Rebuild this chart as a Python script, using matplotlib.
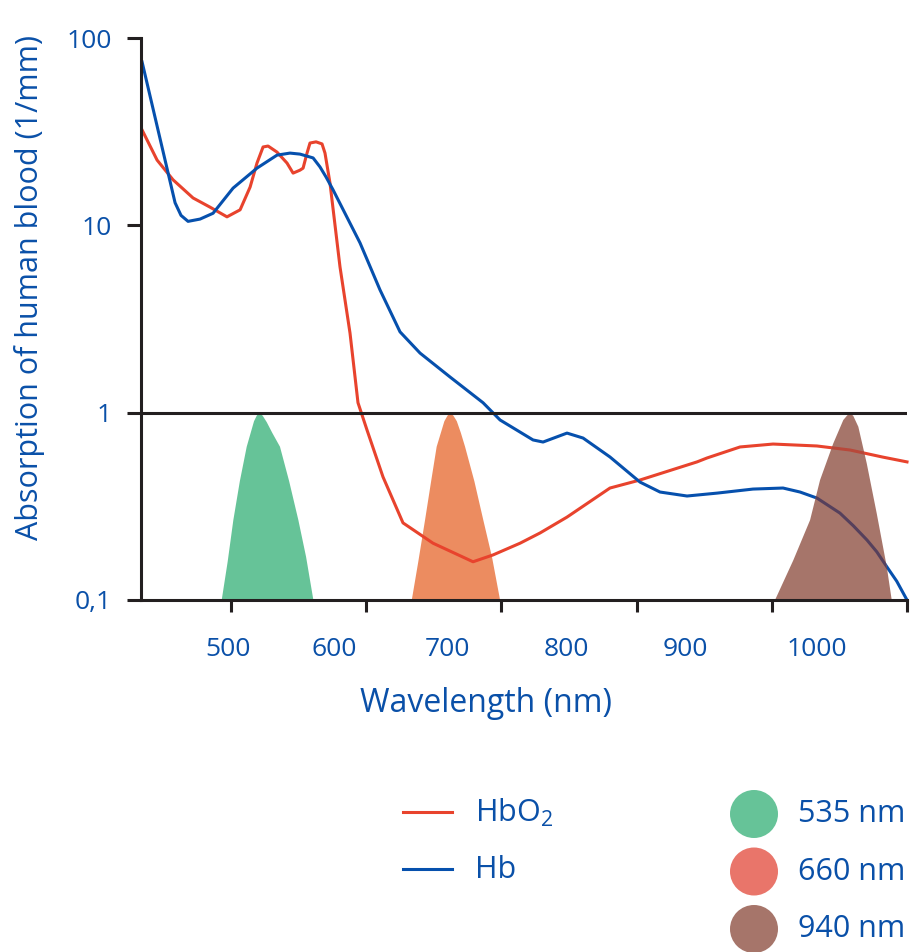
import matplotlib
matplotlib.use("Agg")
from matplotlib import pyplot as plt
from matplotlib.patches import Circle
from matplotlib.ticker import NullLocator

plt.rcParams['font.family'] = ['Open Sans', 'DejaVu Sans']
plt.rcParams['mathtext.default'] = 'regular'

BLUE_TXT = '#0a50a8'
BLUE = '#0650ad'
RED = '#e8432d'
AXC = '#231f20'

# absorption curves (wavelength nm, absorption 1/mm)
hb_wl = [434.2, 458.6, 463.0, 468.2, 477.1, 486.7, 501.5, 519.2, 534.0, 543.6, 551.0, 560.7,
         565.8, 570.3, 575.4, 595.4, 610.2, 625.0, 639.8, 662.0, 686.4, 699.0, 723.4, 730.8,
         748.5, 760.4, 780.3, 802.5, 817.3, 837.3, 859.5, 886.1, 908.3, 920.9, 933.4,
         950.4, 960.3, 970.4, 977.6, 985.2, 992.4, 1000.0]
hb_abs = [74.5, 13.2, 11.3, 10.5, 10.8, 11.6, 15.8, 20.2, 23.7, 24.3, 24.0, 22.9,
          20.5, 18.1, 15.5, 8.06, 4.52, 2.70, 2.08, 1.55, 1.13, 0.914, 0.715, 0.697,
          0.778, 0.732, 0.580, 0.426, 0.377, 0.359, 0.372, 0.391, 0.396, 0.377, 0.350,
          0.291, 0.249, 0.209, 0.181, 0.150, 0.126, 0.1]

hbo2_wl = [434.2, 445.3, 457.1, 471.9, 484.5, 497.0, 506.7, 514.1, 519.2, 523.7, 527.4,
           534.0, 541.4, 545.9, 551.0, 553.3, 556.2, 558.4, 562.9, 567.3, 569.5, 573.2,
           580.6, 588.0, 593.9, 600.6, 612.4, 627.2, 649.4, 679.0, 693.8, 713.8, 728.6,
           748.5, 780.3, 802.5, 844.7, 852.1, 876.5, 900.9, 933.4, 957.8, 982.2, 1000.0]
hbo2_abs = [32.3, 22.3, 17.5, 14.0, 12.5, 11.1, 12.1, 16.0, 21.5, 26.2, 26.5,
            24.6, 21.5, 19.0, 19.7, 20.2, 24.3, 27.5, 27.9, 27.2, 24.3, 16.8,
            6.00, 2.66, 1.13, 0.807, 0.454, 0.258, 0.201, 0.160, 0.174, 0.201, 0.228,
            0.277, 0.396, 0.437, 0.546, 0.573, 0.656, 0.680, 0.664, 0.632, 0.579, 0.546]

# LED emission bands (outline points)
green_wl = [493.1, 497.5, 501.7, 506.5, 511.6, 517.0, 519.0, 520.9, 523.4, 526.4,
            530.5, 536.2, 543.0, 549.8, 555.5, 560.9]
green_abs = [0.1, 0.16, 0.267, 0.43, 0.658, 0.9, 0.963, 1.0, 0.963, 0.89,
             0.78, 0.658, 0.43, 0.267, 0.17, 0.1]
orange_wl = [633.7, 638.5, 643.5, 648.0, 652.1, 657.8, 660.1, 662.0, 664.5, 667.0,
             670.0, 673.1, 680.0, 686.6, 693.0, 699.0]
orange_abs = [0.1, 0.16, 0.267, 0.43, 0.658, 0.9, 0.963, 1.0, 0.963, 0.9,
              0.78, 0.658, 0.43, 0.267, 0.17, 0.1]
brown_wl = [902.4, 915.9, 928.3, 935.7, 945.5, 952.9, 955.4, 957.8, 960.3, 964.0,
            970.2, 977.6, 985.0, 988.7]
brown_abs = [0.1, 0.163, 0.267, 0.437, 0.686, 0.914, 0.96, 1.0, 0.96, 0.841,
             0.537, 0.290, 0.151, 0.1]

x_ticks = [500, 600, 700, 800, 900, 1000]
x_label_pos = [498, 576, 660, 748, 836, 933]
x_labels = ['500', '600', '700', '800', '900', '1000']
y_ticks = [0.1, 1, 10, 100]
y_labels = ['0,1', '1', '10', '100']

led_labels = ['535 nm', '660 nm', '940 nm']
led_colors = ['#66c398', '#e9756a', '#a6756a']

fig = plt.figure(figsize=(9.17, 9.52), dpi=100)
ax = fig.add_axes([141/917, 352/952, 766/917, 562/952])
ax.set_yscale('log')
ax.set_xlim(433.4, 1000)
ax.set_ylim(0.1, 100)

ax.fill(green_wl, green_abs, color='#66c398', lw=0, zorder=1)
ax.fill(orange_wl, orange_abs, color='#ec8c60', lw=0, zorder=1)
ax.plot(hbo2_wl, hbo2_abs, color=RED, lw=2.2, zorder=2, clip_on=False)
ax.plot(hb_wl, hb_abs, color=BLUE, lw=2.2, zorder=2, clip_on=False)
brown = ax.fill(brown_wl, brown_abs, color='#a6756a', lw=0, zorder=3)[0]
# lines seen through the brown band look darker
l1, = ax.plot(hbo2_wl, hbo2_abs, color='#b8483a', lw=2.2, zorder=4)
l2, = ax.plot(hb_wl, hb_abs, color='#56405c', lw=2.2, zorder=4)
l1.set_clip_path(brown)
l2.set_clip_path(brown)

ax.axhline(1, color=AXC, lw=2.2, zorder=5)

for s in ['top', 'right']:
    ax.spines[s].set_visible(False)
for s in ['left', 'bottom']:
    ax.spines[s].set_linewidth(2.2)
    ax.spines[s].set_color(AXC)
    ax.spines[s].set_zorder(6)

ax.set_yticks(y_ticks, labels=y_labels)
ax.yaxis.set_minor_locator(NullLocator())
ax.tick_params(axis='y', length=10, width=2.2, color=AXC, labelcolor=BLUE_TXT,
               labelsize=19, pad=11)
ax.set_xticks(x_ticks, labels=[''] * len(x_ticks))
ax.set_xticks(x_label_pos, labels=x_labels, minor=True)
ax.tick_params(axis='x', which='major', length=8.6, width=2.2, color=AXC)
ax.tick_params(axis='x', which='minor', length=0, labelcolor=BLUE_TXT,
               labelsize=19, pad=27)

fig.text(30/917, 1 - 287/952, 'Absorption of human blood (1/mm)', rotation=90,
         ha='center', va='center', color=BLUE_TXT, fontsize=22)
fig.text(486/917, 1 - 703/952, 'Wavelength (nm)', ha='center', va='center',
         color=BLUE_TXT, fontsize=23)

# legend
lax = fig.add_axes([0, 0, 1, 1])
lax.set_xlim(0, 917)
lax.set_ylim(952, 0)
lax.axis('off')
lax.plot([403, 452], [812, 812], color=RED, lw=2.2)
lax.plot([403, 452], [869, 869], color=BLUE, lw=2.2)
lax.text(475, 813, 'HbO$_2$', va='center', color=BLUE_TXT, fontsize=22)
lax.text(475, 870, 'Hb', va='center', color=BLUE_TXT, fontsize=22)
for i, (lab, c) in enumerate(zip(led_labels, led_colors)):
    yc = 814 + i * 57.5
    lax.add_patch(Circle((754, yc), 24, color=c, lw=0))
    lax.text(798, yc, lab, va='center', color=BLUE_TXT, fontsize=22)

fig.savefig('out.png', dpi=100)
